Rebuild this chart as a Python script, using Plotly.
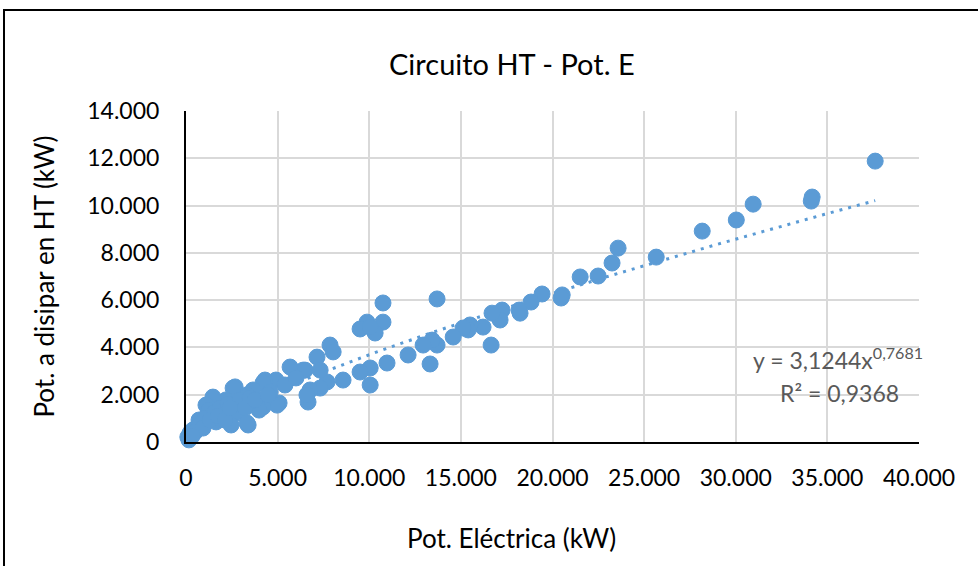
import plotly.graph_objects as go
import numpy as np

# Measured points: electrical power (kW) vs heat to dissipate in the HT circuit (kW)
pot_electrica = [
    37610, 34170, 34120, 30950, 30030, 28170, 25660, 23580, 23250, 22490,
    21510, 20530, 20470, 19430, 18830, 18230, 18180, 17250, 17140, 16700,
    16650, 16210, 15500, 15400, 15120, 14580, 13700, 13700, 13430, 12940,
    13320, 12120, 10970, 10750, 10750, 9880, 9500, 10320, 10050, 10050,
    10050, 9500, 8570, 7700, 7320, 6770, 6660, 6600, 7860, 8030,
    7150, 6500, 7320, 6390, 5680, 4910, 4310, 4200, 5080, 4970,
    4200, 3660, 3330, 3110, 2680, 2570, 2780, 3110, 2180, 1470,
    1090, 1260, 2020, 2730, 3990, 3390, 2460, 3330, 1640, 710,
    380, 100, 220, 600, 760, 1040, 1580, 1860, 2290, 2950,
    3490, 4590, 5400, 6000, 490, 930, 1310, 1750, 2130, 2400,
    3220, 3770, 4480, 160, 330,
]
pot_ht = [
    11880, 10360, 10190, 10060, 9390, 8920, 7820, 8200, 7570, 7020,
    6980, 6220, 6090, 6260, 5920, 5450, 5580, 5580, 5160, 5450,
    4100, 4860, 4950, 4740, 4820, 4440, 6050, 4100, 4310, 4100,
    3300, 3680, 3340, 5880, 5070, 5070, 4780, 4610, 4860, 3130,
    2410, 2960, 2620, 2540, 2280, 2200, 1690, 1990, 4100, 3810,
    3590, 3040, 3040, 3040, 3170, 2620, 2620, 2500, 1650, 1560,
    1480, 2200, 1990, 1900, 2330, 2280, 1350, 1690, 1780, 1900,
    1560, 1350, 1230, 1230, 1350, 720, 720, 800, 850, 930,
    510, 210, 380, 630, 720, 1020, 1270, 1440, 1610, 1780,
    1860, 2110, 2410, 2710, 420, 590, 930, 1100, 930, 1440,
    1440, 1780, 1990, 90, 250,
]

# Power-law trend line coefficients and fit quality
coef_a = 3.1244
coef_b = 0.7681
r_cuadrado = 0.9368

x_ticks = [0, 5000, 10000, 15000, 20000, 25000, 30000, 35000, 40000]
x_tick_labels = ["0", "5.000", "10.000", "15.000", "20.000", "25.000", "30.000", "35.000", "40.000"]
y_ticks = [0, 2000, 4000, 6000, 8000, 10000, 12000, 14000]
y_tick_labels = ["0", "2.000", "4.000", "6.000", "8.000", "10.000", "12.000", "14.000"]

azul = "#5B9BD5"
gris_texto = "#595959"
fuente = "Lato, Carlito, Calibri, sans-serif"

x_fit = np.linspace(min(pot_electrica), max(pot_electrica), 300)
y_fit = coef_a * x_fit ** coef_b

fig = go.Figure()
fig.add_trace(go.Scatter(
    x=x_fit, y=y_fit, mode="lines",
    line=dict(color=azul, width=3, dash="3px,6px"),
    hoverinfo="skip", showlegend=False,
))
fig.add_trace(go.Scatter(
    x=pot_electrica, y=pot_ht, mode="markers",
    marker=dict(color=azul, size=16, line=dict(color=azul, width=1)),
    cliponaxis=False, showlegend=False,
))

# Trend line equation and R², one annotation per line
fmt = lambda v: f"{v:.4f}".replace(".", ",")
fig.add_annotation(
    x=0.89, y=0.253, xref="paper", yref="paper", xanchor="center", yanchor="middle",
    text=f"y = {fmt(coef_a)}x<sup>{fmt(coef_b)}</sup>",
    showarrow=False, font=dict(family=fuente, size=23, color=gris_texto),
)
fig.add_annotation(
    x=0.892, y=0.148, xref="paper", yref="paper", xanchor="center", yanchor="middle",
    text=f"R² = {fmt(r_cuadrado)}",
    showarrow=False, font=dict(family=fuente, size=23, color=gris_texto),
)

# Chart and axis titles
fig.add_annotation(
    x=0.4447, y=1.142, xref="paper", yref="paper", xanchor="center", yanchor="middle",
    text="Circuito HT - Pot. E", showarrow=False,
    font=dict(family=fuente, size=29, color="#000000"),
)
fig.add_annotation(
    x=0.4447, y=-0.29, xref="paper", yref="paper", xanchor="center", yanchor="middle",
    text="Pot. Eléctrica (kW)", showarrow=False,
    font=dict(family=fuente, size=26, color="#000000"),
)
fig.add_annotation(
    x=-0.195, y=0.5, xref="paper", yref="paper", xanchor="center", yanchor="middle",
    text="Pot. a disipar en HT (kW)", showarrow=False, textangle=-90,
    font=dict(family=fuente, size=26, color="#000000"),
)

# Outer chart border
fig.add_shape(
    type="rect", xref="paper", yref="paper",
    x0=-0.2483, x1=1.3, y0=-0.6, y1=1.305,
    line=dict(color="#000000", width=2), fillcolor="rgba(0,0,0,0)", layer="above",
)

fig.update_layout(
    width=978, height=566,
    margin=dict(l=186, r=59, t=111, b=124),
    paper_bgcolor="white", plot_bgcolor="white",
    font=dict(family=fuente, color="#000000"),
    showlegend=False,
)
fig.update_xaxes(
    range=[0, 40000], tickvals=x_ticks, ticktext=x_tick_labels,
    showgrid=True, gridcolor="#D9D9D9", gridwidth=2,
    showline=True, linecolor="#000000", linewidth=2,
    zeroline=False, ticks="", ticklabelstandoff=14,
    tickfont=dict(family=fuente, size=23, color="#000000"),
)
fig.update_yaxes(
    range=[0, 14000], tickvals=y_ticks, ticktext=y_tick_labels,
    showgrid=True, gridcolor="#D9D9D9", gridwidth=2,
    showline=True, linecolor="#000000", linewidth=2,
    zeroline=False, ticks="", ticklabelstandoff=20,
    tickfont=dict(family=fuente, size=23, color="#000000"),
)

fig.write_html("out.html")
